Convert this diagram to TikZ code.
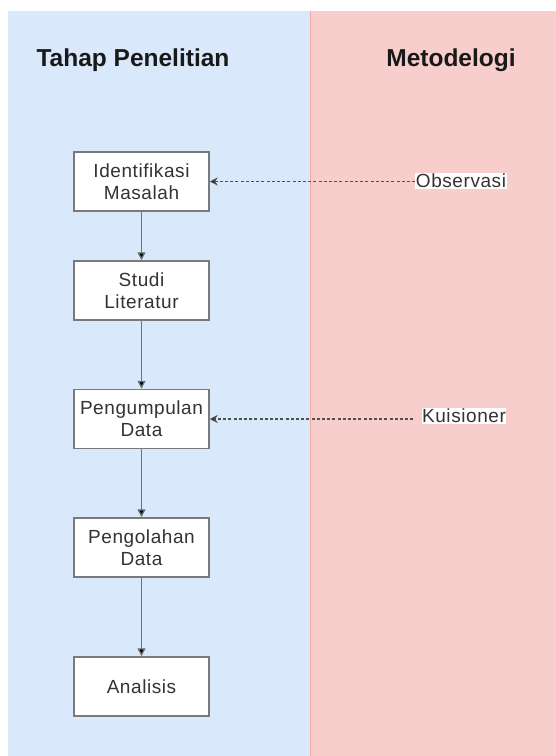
\documentclass[tikz,border=0pt]{standalone}
\usepackage{fontspec}
\setmainfont{Liberation Sans}
\newfontfamily\boxfont[LetterSpace=3]{Liberation Sans}
\usetikzlibrary{arrows.meta}
\definecolor{laneblue}{HTML}{DAE8FC}
\definecolor{lanepink}{HTML}{F8CECC}
\definecolor{laneedge}{HTML}{EEAAAA}
\definecolor{boxedge}{HTML}{7A7A7A}
\definecolor{flowline}{HTML}{707070}
\definecolor{dashline}{HTML}{505050}
\tikzset{
  stepbox/.style={draw=boxedge, line width=1.5pt, fill=white, minimum width=135pt, minimum height=59pt,
    align=center, inner sep=0pt, font=\boxfont\fontsize{19}{22}\selectfont, text=black!80},
  flowarrow/.style={draw=flowline, line width=1.3pt, -{Triangle[length=8pt,width=8pt,fill=black]}},
  methodarrow/.style={draw=dashline, line width=1.1pt, dash pattern=on 3pt off 2.2pt, -{Stealth[length=8pt,width=8pt,fill=black]}},
  methodlabel/.style={fill=white, inner sep=0.6pt, font=\boxfont\fontsize{19}{22}\selectfont, text=black!80},
  lanetitle/.style={font=\bfseries\fontsize{24.5}{28}\selectfont, text=black!90}
}
\begin{document}
\begin{tikzpicture}[x=1pt,y=-1pt]
\useasboundingbox (0,0) rectangle (556,756);
\fill[white] (0,0) rectangle (556,756);
\fill[laneblue] (8,11) rectangle (310,756);
\fill[lanepink] (310,11) rectangle (556,756);
\draw[laneedge, line width=1.5pt] (310.5,11) -- (310.5,756);
\node[lanetitle] (t1) at (133,60) {Tahap Penelitian};
\node[lanetitle] (t2) at (451,60) {Metodelogi};
\node[stepbox] (b1) at (141.5,181.5) {Identifikasi\\Masalah};
\node[stepbox] (b2) at (141.5,290.5) {Studi\\Literatur};
\node[stepbox] (b3) at (141.5,419) {Pengumpulan\\Data};
\node[stepbox] (b4) at (141.5,547.5) {Pengolahan\\Data};
\node[stepbox] (b5) at (141.5,686.5) {Analisis};
\draw[flowarrow] (b1) -- (b2);
\draw[flowarrow] (b2) -- (b3);
\draw[flowarrow] (b3) -- (b4);
\draw[flowarrow] (b4) -- (b5);
\node[methodlabel] (m1) at (461,181) {Observasi};
\node[methodlabel] (m2) at (464,416) {Kuisioner};
\draw[methodarrow] (m1.west |- b1.east) -- (b1.east);
\coordinate (k1) at ([xshift=-8pt]m2.west |- b3.east);
\draw[methodarrow] (k1) -- (b3.east);
\end{tikzpicture}
\end{document}
